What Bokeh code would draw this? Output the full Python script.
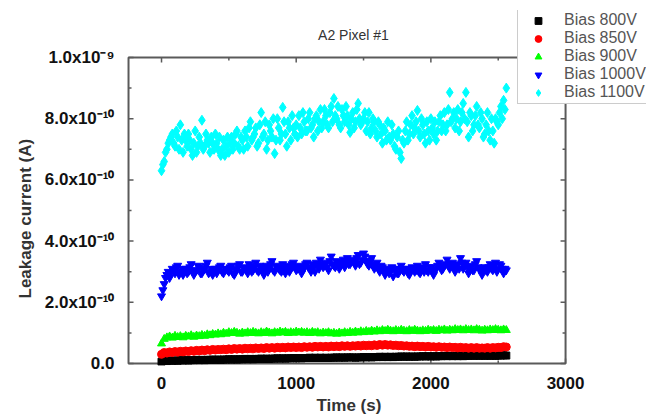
import math
from bokeh.plotting import figure
from bokeh.models import ColumnDataSource, FixedTicker, Legend, LegendItem, Title, Label
from bokeh.embed import file_html
from bokeh.resources import INLINE

# Sampling times (s)
time_s = list(range(0, 2561, 20))
time_mid = list(range(10, 2551, 20))

# Leakage current, in units of 1e-10 A
bias_800v = [
    0.06, 0.09, 0.08, 0.10, 0.09, 0.10, 0.09, 0.11, 0.10, 0.11,
    0.10, 0.11, 0.11, 0.12, 0.11, 0.12, 0.11, 0.12, 0.12, 0.13,
    0.12, 0.13, 0.12, 0.13, 0.13, 0.14, 0.13, 0.14, 0.13, 0.14,
    0.14, 0.15, 0.14, 0.15, 0.14, 0.15, 0.15, 0.16, 0.15, 0.16,
    0.15, 0.16, 0.16, 0.17, 0.16, 0.17, 0.16, 0.17, 0.17, 0.18,
    0.17, 0.18, 0.17, 0.18, 0.18, 0.19, 0.18, 0.19, 0.18, 0.19,
    0.18, 0.19, 0.18, 0.19, 0.19, 0.20, 0.19, 0.20, 0.19, 0.20,
    0.20, 0.20, 0.19, 0.20, 0.20, 0.21, 0.20, 0.21, 0.20, 0.21,
    0.21, 0.22, 0.21, 0.22, 0.21, 0.22, 0.21, 0.22, 0.22, 0.23,
    0.22, 0.23, 0.22, 0.23, 0.22, 0.23, 0.23, 0.24, 0.23, 0.24,
    0.23, 0.24, 0.23, 0.24, 0.24, 0.25, 0.24, 0.25, 0.24, 0.25,
    0.24, 0.25, 0.24, 0.25, 0.25, 0.26, 0.25, 0.26, 0.25, 0.26,
    0.25, 0.26, 0.25, 0.26, 0.25, 0.26, 0.26, 0.27, 0.26,
]
bias_850v = [
    0.30, 0.36, 0.34, 0.38, 0.36, 0.39, 0.37, 0.40, 0.38, 0.41,
    0.39, 0.42, 0.40, 0.43, 0.41, 0.44, 0.42, 0.45, 0.43, 0.46,
    0.44, 0.46, 0.45, 0.47, 0.45, 0.48, 0.46, 0.49, 0.47, 0.49,
    0.47, 0.50, 0.48, 0.50, 0.48, 0.51, 0.49, 0.51, 0.49, 0.52,
    0.50, 0.52, 0.50, 0.53, 0.51, 0.53, 0.51, 0.54, 0.52, 0.54,
    0.52, 0.54, 0.52, 0.55, 0.53, 0.55, 0.53, 0.56, 0.54, 0.56,
    0.54, 0.56, 0.54, 0.57, 0.55, 0.57, 0.55, 0.58, 0.56, 0.58,
    0.56, 0.58, 0.57, 0.59, 0.57, 0.60, 0.58, 0.60, 0.58, 0.61,
    0.59, 0.62, 0.60, 0.62, 0.60, 0.61, 0.59, 0.60, 0.58, 0.59,
    0.57, 0.58, 0.56, 0.57, 0.55, 0.57, 0.55, 0.56, 0.54, 0.56,
    0.54, 0.55, 0.53, 0.55, 0.53, 0.54, 0.52, 0.54, 0.52, 0.53,
    0.51, 0.53, 0.51, 0.52, 0.50, 0.52, 0.50, 0.52, 0.50, 0.51,
    0.50, 0.52, 0.50, 0.52, 0.51, 0.53, 0.52, 0.55, 0.54,
]
bias_900v = [
    0.65, 0.80, 0.85, 0.88, 0.84, 0.90, 0.86, 0.89, 0.85, 0.90,
    0.88, 0.92, 0.87, 0.91, 0.89, 0.93, 0.90, 0.95, 0.92, 0.96,
    0.94, 0.98, 0.95, 1.00, 0.97, 1.02, 0.99, 1.03, 1.00, 0.97,
    1.01, 0.98, 1.02, 0.99, 1.03, 1.00, 0.98, 1.02, 0.99, 1.04,
    1.01, 0.98, 1.02, 1.00, 1.04, 1.01, 1.03, 0.99, 1.02, 1.00,
    1.04, 1.01, 1.03, 1.00, 1.02, 0.99, 1.03, 1.00, 1.02, 0.98,
    1.01, 0.99, 1.02, 0.98, 1.00, 0.97, 1.01, 0.98, 1.02, 0.99,
    1.03, 1.00, 1.04, 1.01, 1.05, 1.02, 1.06, 1.03, 1.07, 1.04,
    1.08, 1.05, 1.09, 1.06, 1.10, 1.07, 1.05, 1.09, 1.06, 1.10,
    1.07, 1.05, 1.09, 1.06, 1.10, 1.07, 1.05, 1.08, 1.06, 1.10,
    1.07, 1.09, 1.06, 1.10, 1.08, 1.11, 1.07, 1.10, 1.08, 1.12,
    1.09, 1.11, 1.08, 1.12, 1.09, 1.11, 1.08, 1.12, 1.10, 1.07,
    1.10, 1.08, 1.11, 1.09, 1.12, 1.10, 1.08, 1.11, 1.09,
]
bias_1000v = [
    2.20, 2.60, 2.90, 2.80, 3.10, 2.95, 3.20, 3.00, 2.90, 3.10,
    3.00, 3.25, 2.90, 3.05, 3.15, 2.95, 3.10, 3.30, 3.00, 2.90,
    3.10, 3.05, 3.20, 2.95, 3.10, 3.00, 3.20, 2.90, 3.10, 3.25,
    3.00, 3.15, 2.95, 3.20, 3.05, 3.30, 3.00, 3.15, 2.90, 3.20,
    3.10, 3.35, 3.00, 3.15, 3.05, 3.25, 2.95, 3.20, 3.10, 3.30,
    3.05, 3.20, 2.95, 3.15, 3.30, 3.10, 3.25, 3.00, 3.20, 3.40,
    3.15, 3.30, 3.05, 3.50, 3.20, 3.35, 3.10, 3.30, 3.15, 3.45,
    3.25, 3.40, 3.20, 3.55, 3.30, 3.60, 3.35, 3.20, 3.45, 3.10,
    3.30, 3.00, 3.15, 2.90, 3.10, 3.00, 2.85, 3.10, 2.95, 3.20,
    3.00, 3.10, 2.90, 3.15, 3.00, 3.20, 2.95, 3.10, 3.25, 3.00,
    3.15, 2.90, 3.10, 3.30, 3.05, 3.20, 3.40, 3.10, 3.30, 3.00,
    3.25, 3.45, 3.10, 3.30, 2.95, 3.20, 3.05, 3.35, 3.10, 2.90,
    3.15, 3.00, 3.25, 3.05, 3.30, 3.10, 3.20, 2.95, 3.05,
]
bias_1000v_mid = [
    2.40, 2.80, 3.00, 2.95, 3.05, 3.15, 2.90, 3.10, 3.00, 2.95,
    3.15, 3.05, 3.00, 3.20, 2.95, 3.05, 3.20, 2.95, 3.10, 3.05,
    2.95, 3.15, 3.00, 3.10, 3.05, 3.15, 2.95, 3.05, 3.20, 3.00,
    3.10, 3.05, 3.25, 3.00, 3.15, 3.05, 3.20, 3.05, 3.10, 3.00,
    3.25, 3.05, 3.20, 3.10, 3.00, 3.15, 3.10, 3.00, 3.25, 3.15,
    3.10, 3.15, 3.05, 3.25, 3.15, 3.00, 3.15, 3.30, 3.10, 3.25,
    3.20, 3.15, 3.35, 3.25, 3.15, 3.30, 3.20, 3.40, 3.30, 3.25,
    3.35, 3.30, 3.45, 3.25, 3.40, 3.50, 3.25, 3.35, 3.20, 3.25,
    3.10, 3.20, 3.05, 3.00, 2.95, 3.15, 3.05, 2.95, 3.10, 3.05,
    3.10, 2.95, 3.05, 3.10, 3.05, 3.00, 3.15, 3.00, 3.05, 3.15,
    3.00, 3.05, 3.20, 3.15, 3.10, 3.25, 3.20, 3.25, 3.15, 3.20,
    3.10, 3.30, 3.20, 3.15, 3.10, 3.05, 3.25, 3.15, 3.05, 3.10,
    3.05, 3.15, 3.10, 3.20, 3.00, 3.25, 3.10, 3.10,
]
bias_1100v = [
    6.30, 6.60, 7.00, 7.30, 7.50, 7.10, 7.40, 7.80, 6.90, 7.30,
    7.50, 7.00, 7.20, 6.90, 7.40, 7.95, 7.10, 7.30, 6.90, 7.20,
    7.50, 7.00, 6.80, 7.30, 7.10, 6.90, 7.40, 7.20, 7.60, 7.00,
    7.30, 7.60, 7.10, 7.90, 7.40, 7.70, 7.20, 8.20, 7.50, 7.00,
    7.80, 7.40, 6.86, 8.00, 7.30, 8.37, 7.50, 7.90, 7.30, 7.70,
    7.80, 8.10, 7.50, 7.90, 7.60, 8.20, 7.80, 8.00, 7.60, 8.30,
    7.90, 8.10, 7.70, 8.40, 8.66, 8.00, 7.80, 8.30, 7.90, 8.10,
    7.55, 8.20, 7.90, 8.50, 7.80, 8.00, 7.60, 8.20, 7.70, 7.90,
    7.40, 7.80, 7.20, 7.60, 7.90, 7.30, 7.50, 7.00, 7.60, 6.70,
    7.20, 7.90, 7.50, 8.10, 7.70, 8.27, 7.40, 7.80, 7.20, 7.60,
    8.00, 7.50, 7.30, 7.90, 7.60, 8.20, 7.80, 8.86, 8.00, 7.70,
    8.30, 7.90, 8.50, 8.86, 7.40, 8.10, 7.80, 8.40, 7.70, 8.00,
    7.50, 8.20, 7.30, 7.60, 8.00, 7.80, 8.40, 8.60, 9.00,
]
bias_1100v_mid = [
    6.50, 6.90, 7.20, 7.40, 7.20, 7.60, 7.00, 7.30, 7.50, 7.10,
    7.30, 6.80, 7.60, 7.10, 7.20, 7.00, 7.50, 7.20, 7.40, 7.00,
    7.20, 7.40, 7.00, 6.80, 7.40, 7.20, 7.00, 7.50, 7.10, 7.40,
    7.00, 7.40, 7.70, 7.30, 7.50, 7.10, 7.80, 7.40, 7.90, 7.30,
    7.60, 8.00, 7.30, 7.70, 7.50, 7.90, 7.10, 7.70, 8.10, 7.50,
    7.40, 7.70, 8.20, 7.60, 8.00, 7.70, 7.40, 8.10, 7.90, 7.70,
    8.30, 7.80, 8.20, 7.90, 8.10, 8.40, 7.70, 8.10, 8.40, 7.80,
    8.00, 7.70, 8.30, 8.00, 7.90, 8.20, 7.90, 7.50, 8.00, 7.60,
    7.90, 7.50, 7.70, 7.30, 7.40, 7.80, 7.10, 7.40, 6.90, 7.30,
    7.60, 7.30, 7.80, 7.50, 7.90, 7.60, 8.00, 7.50, 7.90, 7.30,
    7.70, 7.90, 7.60, 8.10, 7.80, 7.60, 8.30, 7.90, 8.20, 8.00,
    7.60, 8.20, 8.00, 7.90, 8.20, 7.60, 8.10, 7.80, 8.20, 7.40,
    7.80, 7.60, 8.00, 7.20, 7.90, 8.20, 8.00, 8.30,
]

series_labels = ["Bias 800V", "Bias 850V", "Bias 900V", "Bias 1000V", "Bias 1100V"]
series_times = [time_s, time_s, time_s, time_s + time_mid, time_s + time_mid]
series_values = [bias_800v, bias_850v, bias_900v,
                 bias_1000v + bias_1000v_mid, bias_1100v + bias_1100v_mid]
series_colors = ["#000000", "#FF0000", "#00FF00", "#0000FF", "#00FFFF"]
series_markers = ["square", "circle", "triangle", "inverted_triangle", "diamond"]
series_sizes = [7, 8, 8, 8, 10]

# axis box (data limits of the drawn frame) and ticks
x_box = (-245, 3000)
y_box = (0, 10)
x_ticks = [0, 1000, 2000, 3000]
x_minor = [500, 1500, 2500]
y_ticks = [0, 2, 4, 6, 8, 10]
y_minor = [1, 3, 5, 7, 9]
y_tick_labels = ["0.0", "2.0x10\u207b\u00b9\u2070", "4.0x10\u207b\u00b9\u2070",
                 "6.0x10\u207b\u00b9\u2070", "8.0x10\u207b\u00b9\u2070", "1.0x10\u207b\u2079"]

FONT = "Liberation Sans"
AX = "#5a5a5a"

p = figure(width=646, height=416, x_range=(-260, 3601), y_range=(-0.065, 11.536),
           output_backend="svg", toolbar_location=None,
           min_border_left=126, min_border_right=0, min_border_top=10, min_border_bottom=51)
p.xgrid.visible = False
p.ygrid.visible = False
p.outline_line_color = None
p.background_fill_color = "white"
p.border_fill_color = "white"

for ax, ticks in ((p.xaxis[0], x_ticks), (p.yaxis[0], y_ticks)):
    ax.ticker = FixedTicker(ticks=ticks, minor_ticks=[])
    ax.axis_line_color = None
    ax.major_tick_line_color = None
    ax.minor_tick_line_color = None
    ax.major_label_text_font = FONT
    ax.major_label_text_font_style = "bold"
    ax.major_label_text_font_size = "17px"
    ax.major_label_text_color = "#111111"
p.xaxis[0].major_label_standoff = 5
p.yaxis[0].major_label_standoff = 6
p.yaxis[0].major_label_overrides = {t: s for t, s in zip(y_ticks, y_tick_labels)}

# axis titles
xt = Title(text="Time (s)", align="left", offset=190, standoff=4,
           text_font=FONT, text_font_style="bold", text_font_size="17px", text_color="#333333")
p.add_layout(xt, "below")
yt = Title(text="Leakage current (A)", align="left", offset=67, standoff=14,
           text_font=FONT, text_font_style="bold", text_font_size="17px", text_color="#333333")
p.add_layout(yt, "left")

title = Label(x=227, y=331, x_units="screen", y_units="screen", text="A2 Pixel #1",
              text_align="center", text_baseline="middle",
              text_font=FONT, text_font_size="14px", text_color="#333333")
p.add_layout(title)

# frame box and inward ticks on all four sides
p.quad(left=[x_box[0]], right=[x_box[1]], bottom=[y_box[0]], top=[y_box[1]],
       fill_color=None, line_color=AX, line_width=2)
half = math.pi / 2
for pos, ln in ((x_ticks, 5), (x_minor, 3)):
    p.ray(x=pos, y=[y_box[0]] * len(pos), length=ln, length_units="screen",
          angle=half, line_color=AX, line_width=1.5)
    p.ray(x=pos, y=[y_box[1]] * len(pos), length=ln, length_units="screen",
          angle=-half, line_color=AX, line_width=1.5)
for pos, ln in ((y_ticks, 5), (y_minor, 3)):
    p.ray(x=[x_box[0]] * len(pos), y=pos, length=ln, length_units="screen",
          angle=0, line_color=AX, line_width=1.5)
    p.ray(x=[x_box[1]] * len(pos), y=pos, length=ln, length_units="screen",
          angle=math.pi, line_color=AX, line_width=1.5)

items = []
for lab, ts, vals, col, mk, sz in zip(series_labels, series_times, series_values,
                                      series_colors, series_markers, series_sizes):
    src = ColumnDataSource(dict(t=ts, y=vals))
    r = p.scatter("t", "y", source=src, marker=mk, size=sz, fill_color=col, line_color=col)
    items.append(LegendItem(label=lab, renderers=[r]))

legend = Legend(items=items, location=(391, 261))
legend.border_line_color = "#999999"
legend.border_line_width = 1
legend.background_fill_color = "white"
legend.background_fill_alpha = 1
legend.label_text_font = FONT
legend.label_text_font_size = "16px"
legend.label_text_color = "#555555"
legend.label_height = 17
legend.glyph_height = 17
legend.glyph_width = 36
legend.label_standoff = 8
legend.padding = 2
legend.spacing = 0
legend.margin = 0
p.add_layout(legend)

open("out.html", "w").write(file_html(p, INLINE))
